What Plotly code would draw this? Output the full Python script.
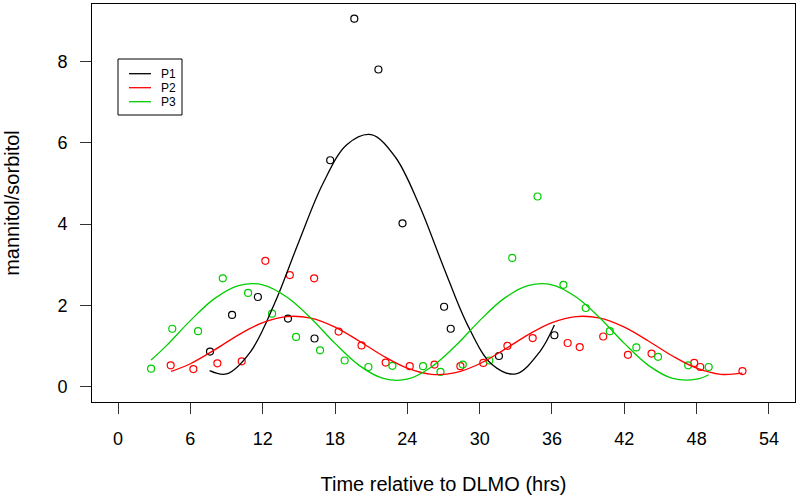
import plotly.graph_objects as go

# ---- observed mannitol/sorbitol ratios ----
p1_time = [7.63, 9.46, 11.6, 14.1, 16.3, 17.6, 19.6, 21.6, 23.6, 27.05, 27.6, 31.6, 36.2]
p1_ratio = [0.87, 1.77, 2.21, 1.68, 1.19, 5.57, 9.05, 7.80, 4.02, 1.97, 1.43, 0.76, 1.27]

p2_time = [4.37, 6.25, 8.24, 10.26, 12.22, 14.25, 16.27, 18.3, 20.2, 22.2, 24.2, 26.25,
           28.4, 30.3, 32.3, 34.4, 37.3, 38.3, 40.25, 42.3, 44.26, 47.8, 48.3, 51.8]
p2_ratio = [0.53, 0.44, 0.58, 0.63, 3.10, 2.75, 2.67, 1.36, 1.02, 0.60, 0.51, 0.55,
            0.51, 0.59, 1.01, 1.20, 1.08, 0.98, 1.24, 0.79, 0.82, 0.59, 0.49, 0.39]

p3_time = [2.74, 4.5, 6.64, 8.69, 10.79, 12.78, 14.77, 16.76, 18.8, 20.77, 22.76, 25.3,
           26.75, 28.6, 30.8, 32.7, 34.8, 36.95, 38.8, 40.8, 43.0, 44.8, 47.3, 49.0]
p3_ratio = [0.45, 1.43, 1.37, 2.67, 2.31, 1.80, 1.23, 0.90, 0.65, 0.49, 0.52, 0.51,
            0.37, 0.55, 0.65, 3.17, 4.68, 2.51, 1.94, 1.37, 0.97, 0.74, 0.53, 0.49]

# ---- fitted curves ----
p1_fit_time = [7.6, 9, 11, 13, 15, 17, 19, 21, 23, 25, 27, 29, 31, 33, 35, 36.2]
p1_fit_ratio = [0.40, 0.32, 0.87, 2.06, 3.57, 5.00, 5.96, 6.20, 5.65, 4.46, 2.95, 1.52,
                0.56, 0.32, 0.87, 1.52]

p2_fit_time = [4.4, 6, 8, 10, 12, 14, 16, 18, 20, 22, 24, 26, 28, 30, 32, 34, 36, 38,
               40, 42, 44, 46, 48, 50, 51.8]
p2_fit_ratio = [0.38, 0.57, 0.91, 1.28, 1.58, 1.73, 1.69, 1.47, 1.13, 0.76, 0.46, 0.31,
                0.35, 0.57, 0.91, 1.28, 1.58, 1.73, 1.69, 1.47, 1.13, 0.76, 0.46, 0.31, 0.34]

p3_fit_time = [2.74, 4, 6, 8, 10, 12, 14, 16, 18, 20, 22, 24, 26, 28, 30, 32, 34, 36,
               38, 40, 42, 44, 46, 48, 49.0]
p3_fit_ratio = [0.66, 1.01, 1.63, 2.17, 2.49, 2.51, 2.21, 1.69, 1.07, 0.53, 0.21, 0.19,
                0.49, 1.01, 1.63, 2.17, 2.49, 2.51, 2.21, 1.69, 1.07, 0.53, 0.21, 0.19, 0.30]

x_ticks = [0, 6, 12, 18, 24, 30, 36, 42, 48, 54]
y_ticks = [0, 2, 4, 6, 8]
legend_names = ["P1", "P2", "P3"]
colors = ["#000000", "#FF0000", "#00CD00"]

series = list(zip(legend_names, colors,
                  [p1_time, p2_time, p3_time], [p1_ratio, p2_ratio, p3_ratio],
                  [p1_fit_time, p2_fit_time, p3_fit_time],
                  [p1_fit_ratio, p2_fit_ratio, p3_fit_ratio]))

W, H = 800, 499
L, R, T, B = 92, 5, 4, 97
PW, PH = W - L - R, H - T - B


def px_x(px):
    return (px - L) / PW


def px_y(py):
    return (H - B - py) / PH


fig = go.Figure()
for name, col, t, r, ft, fr in series:
    fig.add_trace(go.Scatter(
        x=t, y=r, mode="markers", showlegend=False,
        marker=dict(symbol="circle-open", size=7, color=col, line=dict(width=1.2, color=col)),
    ))
for name, col, t, r, ft, fr in series:
    fig.add_trace(go.Scatter(
        x=ft, y=fr, mode="lines", name=name, showlegend=False,
        line=dict(color=col, width=1.3, shape="spline", smoothing=1.0),
    ))

# legend box drawn in R style
shapes = [dict(type="rect", xref="paper", yref="paper",
               x0=px_x(118), x1=px_x(182), y0=px_y(115), y1=px_y(59),
               line=dict(color="#000000", width=1), fillcolor="white", layer="above")]
annotations = []
for i, (name, col) in enumerate(zip(legend_names, colors)):
    yy = px_y(73.7 + 14 * i)
    shapes.append(dict(type="line", xref="paper", yref="paper",
                       x0=px_x(129), x1=px_x(151), y0=yy, y1=yy,
                       line=dict(color=col, width=1.3), layer="above"))
    annotations.append(dict(xref="paper", yref="paper", x=px_x(159), y=yy,
                            xanchor="left", yanchor="middle", text=name, showarrow=False,
                            font=dict(size=12, color="#000000")))

font_family = "Liberation Sans, Arial, sans-serif"
fig.update_layout(
    width=W, height=H,
    margin=dict(l=L, r=R, t=T, b=B),
    paper_bgcolor="white", plot_bgcolor="white",
    font=dict(family=font_family, size=18, color="#000000"),
    showlegend=False,
    shapes=shapes, annotations=annotations,
    xaxis=dict(
        range=[-2.16, 56.16], tickvals=x_ticks, ticktext=[str(v) for v in x_ticks],
        showgrid=False, zeroline=False, showline=True, mirror=True, automargin=False,
        linecolor="#000000", linewidth=1, ticks="outside", ticklen=11,
        tickwidth=1, tickcolor="#333333", ticklabelstandoff=9,
        tickfont=dict(size=18),
        title=dict(text="Time relative to DLMO (hrs)", standoff=29, font=dict(size=20)),
    ),
    yaxis=dict(
        range=[-0.37, 9.41], tickvals=y_ticks, ticktext=[str(v) for v in y_ticks],
        showgrid=False, zeroline=False, showline=True, mirror=True, automargin=False,
        linecolor="#000000", linewidth=1, ticks="outside", ticklen=11,
        tickwidth=1, tickcolor="#333333", ticklabelstandoff=9,
        tickfont=dict(size=18),
        title=dict(text="mannitol/sorbitol", standoff=32, font=dict(size=20)),
    ),
)

fig.write_html("out.html", config={"displayModeBar": False},
               post_script="document.body.style.margin='0px';")
